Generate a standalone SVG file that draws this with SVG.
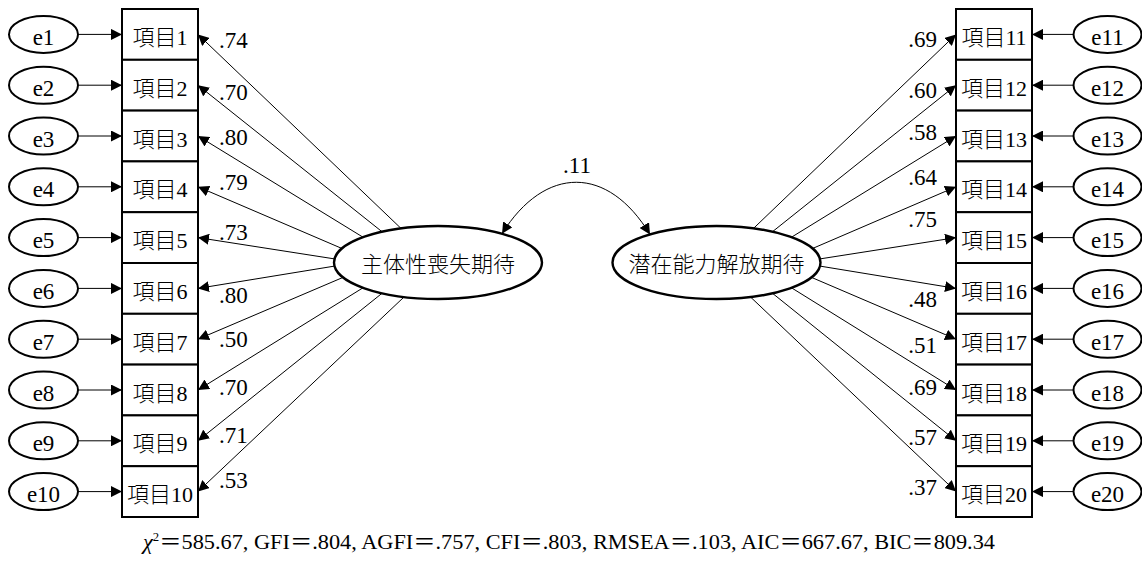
<svg xmlns="http://www.w3.org/2000/svg" width="1142" height="561" viewBox="0 0 1142 561">
  <style>
    .box { fill: #fff; stroke: #000; stroke-width: 2; }
    .err { fill: #fff; stroke: #000; stroke-width: 2; }
    .lat { fill: #fff; stroke: #000; stroke-width: 2.4; }
    .path { fill: none; stroke: #000; stroke-width: 1; }
    .t { font-family: "Liberation Serif", "Noto Sans CJK JP", serif; font-size: 22px; font-weight: 300; fill: #000; }
    .n { font-family: "Liberation Serif", serif; font-size: 23px; fill: #000; }
    .c { text-anchor: middle; }
    .e { text-anchor: end; }
    .fit { font-family: "Liberation Serif", "Noto Sans CJK JP", serif; font-size: 21px; fill: #000; }
  </style>
  <defs>
    <marker id="arrow" markerUnits="userSpaceOnUse" viewBox="0 0 11 11" refX="11" refY="5.5" markerWidth="11" markerHeight="11" orient="auto-start-reverse">
      <path d="M0,0 L11,5.5 L0,11 z" fill="#000"/>
    </marker>
  </defs>

  <!-- connectors -->
  <g id="connectors" class="path" marker-end="url(#arrow)">
    <!-- error terms, left -->
    <line x1="78" y1="34.4" x2="122" y2="34.4"/>
    <line x1="78" y1="85.2" x2="122" y2="85.2"/>
    <line x1="78" y1="136" x2="122" y2="136"/>
    <line x1="78" y1="186.8" x2="122" y2="186.8"/>
    <line x1="78" y1="237.6" x2="122" y2="237.6"/>
    <line x1="78" y1="288.4" x2="122" y2="288.4"/>
    <line x1="78" y1="339.2" x2="122" y2="339.2"/>
    <line x1="78" y1="390" x2="122" y2="390"/>
    <line x1="78" y1="440.8" x2="122" y2="440.8"/>
    <line x1="78" y1="491.6" x2="122" y2="491.6"/>
    <!-- error terms, right -->
    <line x1="1073.5" y1="34.4" x2="1032" y2="34.4"/>
    <line x1="1073.5" y1="85.2" x2="1032" y2="85.2"/>
    <line x1="1073.5" y1="136" x2="1032" y2="136"/>
    <line x1="1073.5" y1="186.8" x2="1032" y2="186.8"/>
    <line x1="1073.5" y1="237.6" x2="1032" y2="237.6"/>
    <line x1="1073.5" y1="288.4" x2="1032" y2="288.4"/>
    <line x1="1073.5" y1="339.2" x2="1032" y2="339.2"/>
    <line x1="1073.5" y1="390" x2="1032" y2="390"/>
    <line x1="1073.5" y1="440.8" x2="1032" y2="440.8"/>
    <line x1="1073.5" y1="491.6" x2="1032" y2="491.6"/>
    <!-- loadings, factor 1 -->
    <line x1="401" y1="228.4" x2="198" y2="34.4"/>
    <line x1="382" y1="231.7" x2="198" y2="85.2"/>
    <line x1="363" y1="237.2" x2="198" y2="136"/>
    <line x1="342" y1="248.5" x2="198" y2="186.8"/>
    <line x1="334.5" y1="258.9" x2="198" y2="237.6"/>
    <line x1="334.5" y1="266.1" x2="198" y2="288.4"/>
    <line x1="343" y1="277.4" x2="198" y2="339.2"/>
    <line x1="363" y1="287.8" x2="198" y2="390"/>
    <line x1="382" y1="293.3" x2="198" y2="440.8"/>
    <line x1="404" y1="297" x2="198" y2="491.6"/>
    <!-- loadings, factor 2 -->
    <line x1="753.5" y1="228.4" x2="956" y2="34.4"/>
    <line x1="772.5" y1="231.7" x2="956" y2="85.2"/>
    <line x1="791.5" y1="237.2" x2="956" y2="136"/>
    <line x1="812.5" y1="248.5" x2="956" y2="186.8"/>
    <line x1="820" y1="258.9" x2="956" y2="237.6"/>
    <line x1="820" y1="266.1" x2="956" y2="288.4"/>
    <line x1="811.5" y1="277.4" x2="956" y2="339.2"/>
    <line x1="791.5" y1="287.8" x2="956" y2="390"/>
    <line x1="772.5" y1="293.3" x2="956" y2="440.8"/>
    <line x1="750.5" y1="297" x2="956" y2="491.6"/>
    <!-- factor covariance -->
    <path d="M502,233.7 C545,165 608,165 650,234.5" marker-start="url(#arrow)"/>
  </g>

  <!-- path coefficients -->
  <g id="coefficients" class="n">
    <text x="219" y="48">.74</text>
    <text x="219" y="100">.70</text>
    <text x="219" y="145">.80</text>
    <text x="219" y="190">.79</text>
    <text x="219" y="240">.73</text>
    <text x="219" y="303">.80</text>
    <text x="219" y="347">.50</text>
    <text x="219" y="395">.70</text>
    <text x="219" y="443">.71</text>
    <text x="219" y="488">.53</text>
    <text class="e" x="937" y="47">.69</text>
    <text class="e" x="937" y="98">.60</text>
    <text class="e" x="937" y="140">.58</text>
    <text class="e" x="937" y="185">.64</text>
    <text class="e" x="937" y="227">.75</text>
    <text class="e" x="937" y="307">.48</text>
    <text class="e" x="937" y="353">.51</text>
    <text class="e" x="937" y="395">.69</text>
    <text class="e" x="937" y="445">.57</text>
    <text class="e" x="937" y="495">.37</text>
    <text class="c" x="577" y="173">.11</text>
  </g>

  <!-- latent factors -->
  <g id="f1">
    <ellipse class="lat" cx="438" cy="262.5" rx="104" ry="36.5"/>
    <text class="t c" x="438" y="272">主体性喪失期待</text>
  </g>
  <g id="f2">
    <ellipse class="lat" cx="716.5" cy="262.5" rx="104" ry="36.5"/>
    <text class="t c" x="716.5" y="272">潜在能力解放期待</text>
  </g>

  <!-- observed items, left -->
  <g id="item1"><rect class="box" x="122" y="9" width="76" height="50.8"/><text class="t c" x="160" y="45">項目1</text></g>
  <g id="item2"><rect class="box" x="122" y="59.8" width="76" height="50.8"/><text class="t c" x="160" y="95.8">項目2</text></g>
  <g id="item3"><rect class="box" x="122" y="110.6" width="76" height="50.8"/><text class="t c" x="160" y="146.6">項目3</text></g>
  <g id="item4"><rect class="box" x="122" y="161.4" width="76" height="50.8"/><text class="t c" x="160" y="197.4">項目4</text></g>
  <g id="item5"><rect class="box" x="122" y="212.2" width="76" height="50.8"/><text class="t c" x="160" y="248.2">項目5</text></g>
  <g id="item6"><rect class="box" x="122" y="263" width="76" height="50.8"/><text class="t c" x="160" y="299">項目6</text></g>
  <g id="item7"><rect class="box" x="122" y="313.8" width="76" height="50.8"/><text class="t c" x="160" y="349.8">項目7</text></g>
  <g id="item8"><rect class="box" x="122" y="364.6" width="76" height="50.8"/><text class="t c" x="160" y="400.6">項目8</text></g>
  <g id="item9"><rect class="box" x="122" y="415.4" width="76" height="50.8"/><text class="t c" x="160" y="451.4">項目9</text></g>
  <g id="item10"><rect class="box" x="122" y="466.2" width="76" height="50.8"/><text class="t c" x="160" y="502.2">項目10</text></g>

  <!-- observed items, right -->
  <g id="item11"><rect class="box" x="956" y="9" width="76" height="50.8"/><text class="t c" x="994" y="45">項目11</text></g>
  <g id="item12"><rect class="box" x="956" y="59.8" width="76" height="50.8"/><text class="t c" x="994" y="95.8">項目12</text></g>
  <g id="item13"><rect class="box" x="956" y="110.6" width="76" height="50.8"/><text class="t c" x="994" y="146.6">項目13</text></g>
  <g id="item14"><rect class="box" x="956" y="161.4" width="76" height="50.8"/><text class="t c" x="994" y="197.4">項目14</text></g>
  <g id="item15"><rect class="box" x="956" y="212.2" width="76" height="50.8"/><text class="t c" x="994" y="248.2">項目15</text></g>
  <g id="item16"><rect class="box" x="956" y="263" width="76" height="50.8"/><text class="t c" x="994" y="299">項目16</text></g>
  <g id="item17"><rect class="box" x="956" y="313.8" width="76" height="50.8"/><text class="t c" x="994" y="349.8">項目17</text></g>
  <g id="item18"><rect class="box" x="956" y="364.6" width="76" height="50.8"/><text class="t c" x="994" y="400.6">項目18</text></g>
  <g id="item19"><rect class="box" x="956" y="415.4" width="76" height="50.8"/><text class="t c" x="994" y="451.4">項目19</text></g>
  <g id="item20"><rect class="box" x="956" y="466.2" width="76" height="50.8"/><text class="t c" x="994" y="502.2">項目20</text></g>

  <!-- error terms, left -->
  <g id="e1"><ellipse class="err" cx="43.5" cy="34.4" rx="34.5" ry="18.5"/><text class="n c" x="43.5" y="45">e1</text></g>
  <g id="e2"><ellipse class="err" cx="43.5" cy="85.2" rx="34.5" ry="18.5"/><text class="n c" x="43.5" y="95.8">e2</text></g>
  <g id="e3"><ellipse class="err" cx="43.5" cy="136" rx="34.5" ry="18.5"/><text class="n c" x="43.5" y="146.6">e3</text></g>
  <g id="e4"><ellipse class="err" cx="43.5" cy="186.8" rx="34.5" ry="18.5"/><text class="n c" x="43.5" y="197.4">e4</text></g>
  <g id="e5"><ellipse class="err" cx="43.5" cy="237.6" rx="34.5" ry="18.5"/><text class="n c" x="43.5" y="248.2">e5</text></g>
  <g id="e6"><ellipse class="err" cx="43.5" cy="288.4" rx="34.5" ry="18.5"/><text class="n c" x="43.5" y="299">e6</text></g>
  <g id="e7"><ellipse class="err" cx="43.5" cy="339.2" rx="34.5" ry="18.5"/><text class="n c" x="43.5" y="349.8">e7</text></g>
  <g id="e8"><ellipse class="err" cx="43.5" cy="390" rx="34.5" ry="18.5"/><text class="n c" x="43.5" y="400.6">e8</text></g>
  <g id="e9"><ellipse class="err" cx="43.5" cy="440.8" rx="34.5" ry="18.5"/><text class="n c" x="43.5" y="451.4">e9</text></g>
  <g id="e10"><ellipse class="err" cx="43.5" cy="491.6" rx="34.5" ry="18.5"/><text class="n c" x="43.5" y="502.2">e10</text></g>

  <!-- error terms, right -->
  <g id="e11"><ellipse class="err" cx="1107.5" cy="34.4" rx="34" ry="18.5"/><text class="n c" x="1107.5" y="45">e11</text></g>
  <g id="e12"><ellipse class="err" cx="1107.5" cy="85.2" rx="34" ry="18.5"/><text class="n c" x="1107.5" y="95.8">e12</text></g>
  <g id="e13"><ellipse class="err" cx="1107.5" cy="136" rx="34" ry="18.5"/><text class="n c" x="1107.5" y="146.6">e13</text></g>
  <g id="e14"><ellipse class="err" cx="1107.5" cy="186.8" rx="34" ry="18.5"/><text class="n c" x="1107.5" y="197.4">e14</text></g>
  <g id="e15"><ellipse class="err" cx="1107.5" cy="237.6" rx="34" ry="18.5"/><text class="n c" x="1107.5" y="248.2">e15</text></g>
  <g id="e16"><ellipse class="err" cx="1107.5" cy="288.4" rx="34" ry="18.5"/><text class="n c" x="1107.5" y="299">e16</text></g>
  <g id="e17"><ellipse class="err" cx="1107.5" cy="339.2" rx="34" ry="18.5"/><text class="n c" x="1107.5" y="349.8">e17</text></g>
  <g id="e18"><ellipse class="err" cx="1107.5" cy="390" rx="34" ry="18.5"/><text class="n c" x="1107.5" y="400.6">e18</text></g>
  <g id="e19"><ellipse class="err" cx="1107.5" cy="440.8" rx="34" ry="18.5"/><text class="n c" x="1107.5" y="451.4">e19</text></g>
  <g id="e20"><ellipse class="err" cx="1107.5" cy="491.6" rx="34" ry="18.5"/><text class="n c" x="1107.5" y="502.2">e20</text></g>

  <!-- fit indices -->
  <text id="fit" class="fit" x="143" y="549" textLength="852" lengthAdjust="spacingAndGlyphs"><tspan font-style="italic">χ</tspan><tspan font-size="12" dy="-8">2</tspan><tspan dy="8">＝585.67, GFI＝.804, AGFI＝.757, CFI＝.803, RMSEA＝.103, AIC＝667.67, BIC＝809.34</tspan></text>
</svg>
